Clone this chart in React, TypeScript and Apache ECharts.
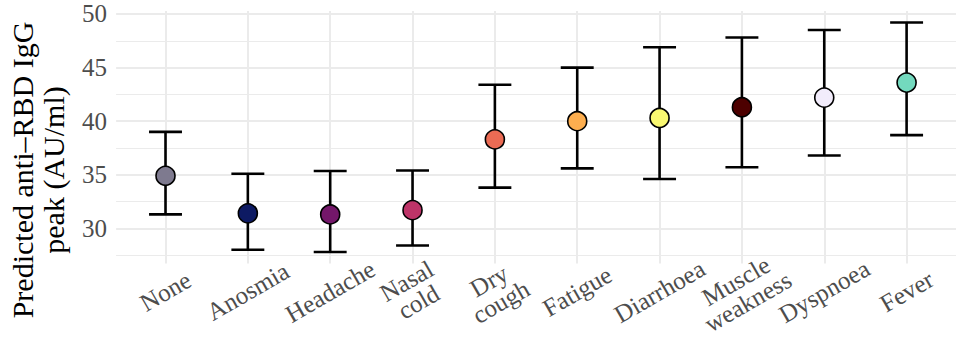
import React, { useEffect, useRef } from "react";
import * as echarts from "echarts";

const categories = ["None", "Anosmia", "Headache", "Nasal\ncold", "Dry\ncough", "Fatigue", "Diarrhoea", "Muscle\nweakness", "Dyspnoea", "Fever"];
const means = [34.9, 31.4, 31.3, 31.7, 38.3, 40.0, 40.3, 41.3, 42.2, 43.6];
const lower = [31.3, 28.0, 27.8, 28.4, 33.8, 35.6, 34.6, 35.7, 36.8, 38.7];
const upper = [39.0, 35.1, 35.35, 35.4, 43.4, 45.0, 46.9, 47.8, 48.5, 49.2];
const pointColors = ["#7E7A8F", "#0D1A63", "#74176A", "#BE3468", "#EB6B54", "#FDAE4F", "#F9F871", "#4D0000", "#F2ECFB", "#73D9BE"];
const majorTicks = [30, 35, 40, 45, 50];
const minorTicks = [27.5, 32.5, 37.5, 42.5, 47.5];
const yTitle = "Predicted anti–RBD IgG\npeak (AU/ml)";

const FONT = "'Liberation Serif', 'Times New Roman', serif";

export default function App() {
  const ref = useRef<HTMLDivElement>(null);
  useEffect(() => {
    if (!ref.current) return;
    const chart = echarts.init(ref.current, undefined, { renderer: "svg" });
    const lo = Math.min(...lower);
    const hi = Math.max(...upper);
    const pad = (hi - lo) * 0.05;
    const yMin = lo - pad;
    const yMax = hi + pad;
    const idx = categories.map((_, i) => i);
    const grid = { left: 116.1, top: 11.1, width: 847.7, height: 252.3 };
    chart.setOption({
      animation: false,
      backgroundColor: "#ffffff",
      grid,
      xAxis: {
        type: "value",
        min: -0.6,
        max: 9.6,
        axisLine: { show: false },
        axisTick: { show: false, customValues: idx },
        splitLine: { show: true, lineStyle: { color: "#EBEBEB", width: 2 } },
        axisLabel: {
          customValues: idx,
          formatter: (v: number) => categories[Math.round(v)],
          rotate: 30,
          align: "center",
          verticalAlign: "middle",
          margin: 28,
          fontFamily: FONT,
          fontSize: 25,
          lineHeight: 24,
          color: "#4D4D4D",
          showMinLabel: true,
          showMaxLabel: true,
        },
      },
      yAxis: [
        {
          type: "value",
          min: yMin,
          max: yMax,
          axisLine: { show: false },
          axisTick: { show: false, customValues: majorTicks },
          splitLine: { show: true, lineStyle: { color: "#EBEBEB", width: 2 } },
          axisLabel: {
            customValues: majorTicks,
            margin: 9,
            fontFamily: FONT,
            fontSize: 25,
            color: "#4D4D4D",
          },
        },
        {
          type: "value",
          min: yMin,
          max: yMax,
          position: "left",
          axisLine: { show: false },
          axisTick: { show: false, customValues: minorTicks },
          axisLabel: { show: false, customValues: minorTicks },
          splitLine: { show: true, lineStyle: { color: "#EBEBEB", width: 1 } },
        },
      ],
      graphic: [
        {
          type: "text",
          x: 38,
          y: 170,
          rotation: Math.PI / 2,
          style: {
            text: yTitle,
            fontFamily: FONT,
            fontSize: 30,
            lineHeight: 31,
            fill: "#000000",
            align: "center",
            verticalAlign: "middle",
          },
        },
      ],
      series: [
        {
          type: "custom",
          yAxisIndex: 0,
          data: idx.map((i) => [i, lower[i], upper[i]]),
          renderItem: (params: any, api: any) => {
            const x = api.value(0);
            const top = api.coord([x, api.value(2)]);
            const bot = api.coord([x, api.value(1)]);
            const hw = api.size([0.2, 0])[0];
            const st = { stroke: "#000000", lineWidth: 2.6 };
            return {
              type: "group",
              children: [
                { type: "line", shape: { x1: top[0], y1: top[1], x2: bot[0], y2: bot[1] }, style: st },
                { type: "line", shape: { x1: top[0] - hw, y1: top[1], x2: top[0] + hw, y2: top[1] }, style: st },
                { type: "line", shape: { x1: bot[0] - hw, y1: bot[1], x2: bot[0] + hw, y2: bot[1] }, style: st },
              ],
            };
          },
          z: 2,
        },
        {
          type: "scatter",
          yAxisIndex: 0,
          symbolSize: 19,
          data: idx.map((i) => ({
            value: [i, means[i]],
            itemStyle: { color: pointColors[i], borderColor: "#000000", borderWidth: 1.6, opacity: 1 },
          })),
          z: 3,
        },
      ],
    });
    return () => chart.dispose();
  }, []);
  return <div ref={ref} style={{ position: "fixed", left: 0, top: 0, width: 956, height: 339 }} />;
}
